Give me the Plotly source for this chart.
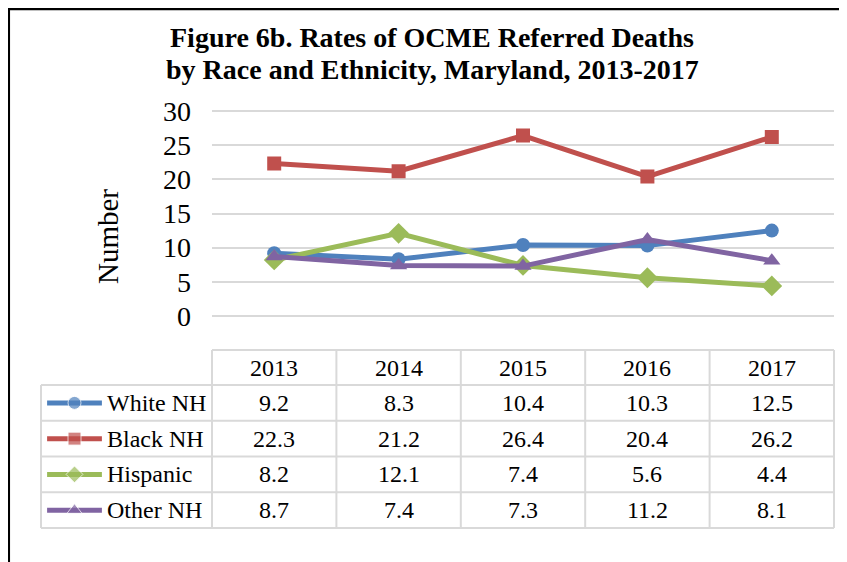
import plotly.graph_objects as go

# data
YEARS = ["2013", "2014", "2015", "2016", "2017"]
SERIES = ["White NH", "Black NH", "Hispanic", "Other NH"]
WHITE_NH = [9.2, 8.3, 10.4, 10.3, 12.5]
BLACK_NH = [22.3, 21.2, 26.4, 20.4, 26.2]
HISPANIC = [8.2, 12.1, 7.4, 5.6, 4.4]
OTHER_NH = [8.7, 7.4, 7.3, 11.2, 8.1]
Y_TICKS = [0, 5, 10, 15, 20, 25, 30]
TITLE_LINES = ["Figure 6b. Rates of OCME Referred Deaths",
               "by Race and Ethnicity, Maryland, 2013-2017"]
Y_TITLE = "Number"

VALUES = [WHITE_NH, BLACK_NH, HISPANIC, OTHER_NH]
COLORS = ["#4F81BD", "#C0504D", "#9BBB59", "#8064A2"]
SYMBOLS = ["circle", "square", "diamond", "triangle-up"]
SIZES = [14, 14, 16, 15]

W, H = 847, 562
OFF = 8  # page body margin
FONT = "Liberation Serif, Times New Roman, serif"
GRID = "#d9d9d9"

# pixel layout (window coordinates)
PLOT_L, PLOT_R = 212, 834
Y0_PX, Y30_PX = 316, 111
TAB_TOP, HEAD_BOT, TAB_BOT = 350, 385, 528
TAB_L = 41
KEY_L, KEY_R = 46, 103


def px(x):
    return (x - OFF) / W


def py(y):
    return 1 - (y - OFF) / H


unit = (Y0_PX - Y30_PX) / 30.0
y_lo, y_hi = -0.5, 30.5
ydom = [py(Y0_PX - y_lo * unit), py(Y0_PX - y_hi * unit)]

fig = go.Figure()

for name, vals, col, sym, sz in zip(SERIES, VALUES, COLORS, SYMBOLS, SIZES):
    fig.add_trace(go.Scatter(x=YEARS, y=vals, name=name, mode="lines+markers",
                             line=dict(color=col, width=5),
                             marker=dict(symbol=sym, size=sz, color=col),
                             hoverinfo="x+y+name"))

# legend keys inside the table
n_rows = len(SERIES)
for i, (name, col, sym) in enumerate(zip(SERIES, COLORS, SYMBOLS)):
    fig.add_trace(go.Scatter(x=[0, 0.5, 1], y=[i, i, i], mode="lines+markers",
                             line=dict(color=col, width=5),
                             marker=dict(symbol=sym, size=[0, 13, 0], color=col),
                             xaxis="x2", yaxis="y2", hoverinfo="skip"))

ncol = len(YEARS)
col_w = (PLOT_R - PLOT_L) / ncol
row_h = (TAB_BOT - HEAD_BOT) / n_rows


def hline(x0, x1, y, **style):
    return dict(type="line", xref="paper", yref="paper", x0=px(x0), x1=px(x1),
                y0=py(y), y1=py(y), line=style)


def vline(x, y0, y1, **style):
    return dict(type="line", xref="paper", yref="paper", x0=px(x), x1=px(x),
                y0=py(y0), y1=py(y1), line=style)


shapes = [hline(PLOT_L, PLOT_R, TAB_TOP, color=GRID, width=2)]
for r in range(n_rows + 1):
    shapes.append(hline(TAB_L, PLOT_R, HEAD_BOT + r * row_h, color=GRID, width=2))
shapes.append(vline(TAB_L, HEAD_BOT, TAB_BOT, color=GRID, width=2))
for c in range(ncol + 1):
    shapes.append(vline(PLOT_L + c * col_w, TAB_TOP, TAB_BOT, color=GRID, width=2))
# black frame (top and left)
shapes.append(hline(7.5, W + 20, 9, color="black", width=2.5))
shapes.append(vline(8.8, 8, H + 20, color="black", width=2.5))

annotations = []


def label(text, x, y, size, xanchor="center", angle=0):
    return dict(text=text, x=px(x), y=py(y), xref="paper", yref="paper",
                xanchor=xanchor, yanchor="middle", showarrow=False, textangle=angle,
                font=dict(family=FONT, size=size, color="black"))


for k, line in enumerate(TITLE_LINES):
    annotations.append(label("<b>" + line + "</b>", 432, 37 + 32 * k, 28))
annotations.append(label(Y_TITLE, 108, 237, 29, angle=-90))
for c, yr in enumerate(YEARS):
    annotations.append(label(yr, PLOT_L + (c + 0.5) * col_w, (TAB_TOP + HEAD_BOT) / 2, 24))
for r, (name, vals) in enumerate(zip(SERIES, VALUES)):
    yc = HEAD_BOT + (r + 0.5) * row_h
    annotations.append(label(name, KEY_R + 2, yc, 24, xanchor="left"))
    for c, v in enumerate(vals):
        annotations.append(label(f"{v:.1f}", PLOT_L + (c + 0.5) * col_w, yc, 24))

fig.update_layout(
    width=W, height=H, autosize=False,
    margin=dict(l=0, r=0, t=0, b=0, autoexpand=False),
    paper_bgcolor="white", plot_bgcolor="white",
    showlegend=False,
    xaxis=dict(type="category", domain=[px(PLOT_L), px(PLOT_R)], range=[-0.5, ncol - 0.5],
               showgrid=False, showticklabels=False, zeroline=False, showline=False,
               automargin=False, fixedrange=True),
    yaxis=dict(domain=ydom, range=[y_lo, y_hi], tickvals=Y_TICKS, showgrid=True,
               gridcolor=GRID, gridwidth=2, zeroline=False, showline=False,
               ticklabelstandoff=20, automargin=False,
               tickfont=dict(family=FONT, size=28, color="black"), fixedrange=True),
    xaxis2=dict(domain=[px(KEY_L), px(KEY_R)], range=[-0.02, 1.02], visible=False,
                anchor="y2", automargin=False, fixedrange=True),
    yaxis2=dict(domain=[py(TAB_BOT), py(HEAD_BOT)], range=[n_rows - 0.5, -0.5], visible=False,
                anchor="x2", automargin=False, fixedrange=True),
    shapes=shapes,
    annotations=annotations,
)

fig.write_html("out.html")
